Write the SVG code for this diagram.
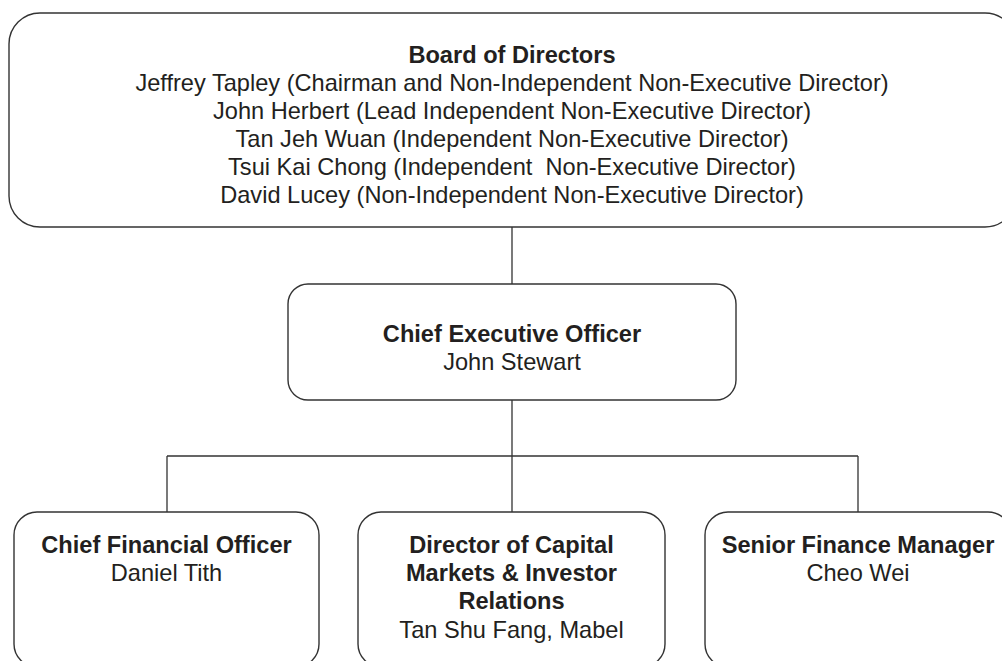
<svg xmlns="http://www.w3.org/2000/svg" width="1002" height="661" viewBox="0 0 1002 661">
<style>
.box{fill:#fff;stroke:#333;stroke-width:1.4}
.ln{stroke:#333;stroke-width:1.3;fill:none}
text{font-family:"Liberation Sans",Arial,sans-serif;font-size:23.6px;fill:#231f20;text-anchor:middle}
.b{font-weight:bold}
</style>
<rect width="1002" height="661" fill="#fff"/>
<g id="connectors">
<path class="ln" d="M512 227V284M512 400V456M167 456H858M167 456V512M512 456V512M858 456V512"/>
</g>
<g id="board">
<rect class="box" x="9" y="13" width="1007" height="214" rx="31"/>
<text class="b" x="512" y="63">Board of Directors</text>
<text x="512" y="91">Jeffrey Tapley (Chairman and Non-Independent Non-Executive Director)</text>
<text x="512" y="119">John Herbert (Lead Independent Non-Executive Director)</text>
<text x="512" y="147">Tan Jeh Wuan (Independent Non-Executive Director)</text>
<text x="512" y="175" xml:space="preserve">Tsui Kai Chong (Independent  Non-Executive Director)</text>
<text x="512" y="203">David Lucey (Non-Independent Non-Executive Director)</text>
</g>
<g id="ceo">
<rect class="box" x="288" y="284" width="448" height="116" rx="20"/>
<text class="b" x="512" y="342">Chief Executive Officer</text>
<text x="512" y="370">John Stewart</text>
</g>
<g id="cfo">
<rect class="box" x="14" y="512" width="305" height="155" rx="23"/>
<text class="b" x="166.5" y="553">Chief Financial Officer</text>
<text x="166.5" y="581">Daniel Tith</text>
</g>
<g id="dcmir">
<rect class="box" x="358" y="512" width="307" height="155" rx="23"/>
<text class="b" x="511.5" y="553">Director of Capital</text>
<text class="b" x="511.5" y="581">Markets &amp; Investor</text>
<text class="b" x="511.5" y="609">Relations</text>
<text x="511.5" y="638">Tan Shu Fang, Mabel</text>
</g>
<g id="sfm">
<rect class="box" x="705" y="512" width="306" height="155" rx="23"/>
<text class="b" x="858" y="553">Senior Finance Manager</text>
<text x="858" y="581">Cheo Wei</text>
</g>
</svg>
